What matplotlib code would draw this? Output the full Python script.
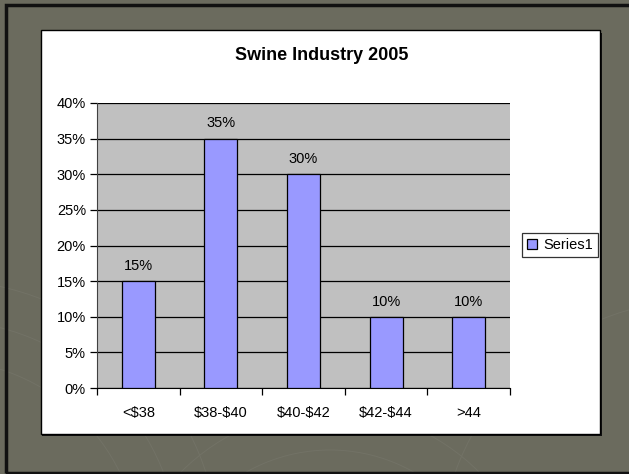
import matplotlib
matplotlib.use("Agg")
import matplotlib.pyplot as plt
from matplotlib.patches import Rectangle, Arc
from matplotlib.ticker import FuncFormatter

categories = ["<$38", "$38-$40", "$40-$42", "$42-$44", ">44"]
values = [0.15, 0.35, 0.30, 0.10, 0.10]
series_name = "Series1"
title = "Swine Industry 2005"

plt.rcParams['font.family'] = ['Liberation Sans', 'DejaVu Sans']
plt.rcParams['text.parse_math'] = False

W, H = 629, 474
fig = plt.figure(figsize=(W/100, H/100), dpi=100)
fig.patch.set_facecolor('#6b6b5e')

def fx(x): return x / W
def fy(y): return 1 - y / H

# faint decorative arcs in the background
for (cx, cy, r) in [(-60, 560, 200), (-60, 560, 240), (-60, 560, 280), (330, 620, 170),
                    (330, 620, 210), (700, 560, 260)]:
    fig.add_artist(Arc((fx(cx), fy(cy)), 2*r/W, 2*r/H, transform=fig.transFigure,
                       color='#727266', lw=0.7, zorder=0))

# outer dark edge (left/top)
fig.add_artist(Rectangle((fx(5.5), fy(473)), (W)/W, 468.5/H, transform=fig.transFigure,
                         fill=False, edgecolor='#111111', lw=2.5, zorder=1))
# panel shadow + white panel
fig.add_artist(Rectangle((fx(42), fy(435.5)), 560/W, 403/H, transform=fig.transFigure,
                         facecolor='#111111', edgecolor='none', zorder=1))
fig.add_artist(Rectangle((fx(41), fy(434)), 559/W, 404/H, transform=fig.transFigure,
                         facecolor='white', edgecolor='black', lw=1.0, zorder=1))

ax = fig.add_axes([fx(97), fy(388), 413/W, 285/H])
ax.set_zorder(2)
ax.set_facecolor('#c0c0c0')
x = range(len(categories))
bars = ax.bar(x, values, width=0.4, color='#9999ff', edgecolor='black', linewidth=0.9,
              label=series_name, zorder=3)
ax.set_xlim(-0.5, len(categories) - 0.5)
ax.set_ylim(0, 0.40)
ax.set_yticks([i * 0.05 for i in range(9)])
ax.yaxis.set_major_formatter(FuncFormatter(lambda v, p: f"{round(v*100)}%"))
ax.yaxis.grid(True, color='black', lw=0.9)
ax.set_axisbelow(True)
ax.set_xticks(list(x))
ax.set_xticklabels(categories, fontsize=10.5)
ax.set_xticks([i - 0.5 for i in range(len(categories) + 1)], minor=True)
ax.tick_params(axis='x', which='major', length=0, pad=13)
ax.tick_params(axis='x', which='minor', length=5, width=0.9, direction='out')
ax.tick_params(axis='y', length=5, width=0.9, labelsize=10.5, pad=3)
for s in ['top', 'right']:
    ax.spines[s].set_visible(False)
ax.spines['left'].set_color('#404040')
ax.spines['bottom'].set_color('black')

for b, v in zip(bars, values):
    ax.text(b.get_x() + b.get_width()/2, v + 0.0115, f"{round(v*100)}%",
            ha='center', va='bottom', fontsize=10.5)

fig.text(fx(322), fy(56), title, ha='center', va='center', fontsize=13, fontweight='bold', zorder=3)

leg = ax.legend(loc='center left', bbox_to_anchor=(fx(522), fy(245)), bbox_transform=fig.transFigure,
                frameon=True, fancybox=False, edgecolor='black', fontsize=10.5,
                handlelength=0.7, handleheight=0.7, handletextpad=0.4, borderpad=0.35,
                borderaxespad=0)
leg.get_frame().set_linewidth(0.9)

fig.savefig("out.png", dpi=100, facecolor=fig.get_facecolor())
